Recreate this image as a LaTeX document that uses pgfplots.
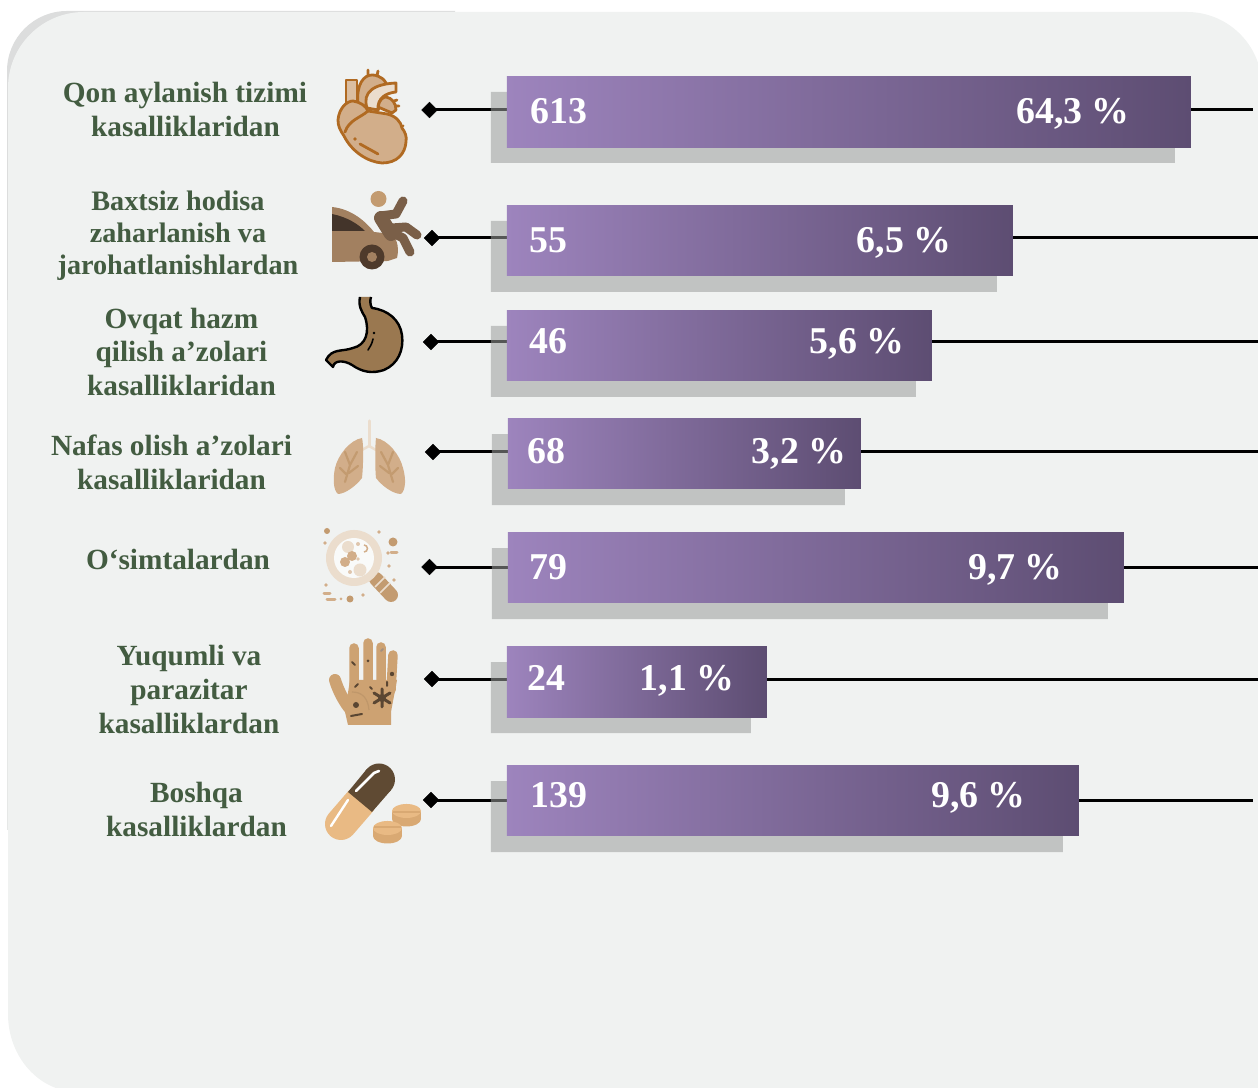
\documentclass[border=0pt]{standalone}
\usepackage{fontspec}
\setmainfont{Liberation Serif}
\usepackage{pgfplots}
\pgfplotsset{compat=1.18}
\definecolor{panel}{HTML}{F0F2F1}
\definecolor{panelsh}{HTML}{DCDDDD}
\definecolor{lab}{HTML}{435C41}
\definecolor{barA}{HTML}{9D84BD}
\definecolor{barB}{HTML}{917AAF}
\definecolor{barC}{HTML}{5D4D72}
\definecolor{shd}{HTML}{9B9D9C}
\definecolor{hOut}{HTML}{B06A22}
\definecolor{hFill}{HTML}{D2AE8A}
\definecolor{hLite}{HTML}{EBDDCD}
\definecolor{carB}{HTML}{A28060}
\definecolor{carD}{HTML}{43342A}
\definecolor{carP}{HTML}{7A5F48}
\definecolor{carH}{HTML}{C39B70}
\definecolor{wheel}{HTML}{4E3A2B}
\definecolor{stom}{HTML}{9A7850}
\definecolor{tan}{HTML}{CDA272}
\definecolor{spot}{HTML}{5A4632}
\definecolor{pillD}{HTML}{5F4A33}
\definecolor{pillL}{HTML}{E9BA84}
\definecolor{pillS}{HTML}{D9A973}
\newcommand{\lbl}[3]{\node[anchor=base,text=lab,font=\fontsize{29.4}{29.4}\selectfont\bfseries,inner sep=0pt] at (#1,#2) {#3};}
\newcommand{\lblb}[3]{\node[anchor=base,text=lab,font=\fontsize{28.3}{28.3}\selectfont\bfseries,inner sep=0pt] at (#1,#2) {#3};}
\newcommand{\val}[3]{\node[anchor=base west,text=white,font=\fontsize{38}{38}\selectfont\bfseries,inner sep=0pt] at (#1,#2) {#3};}
\begin{document}
\begin{tikzpicture}
\useasboundingbox (0,0) rectangle (1258bp,1088bp);
\clip (0,0) rectangle (1258bp,1088bp);
% panel
\begin{scope}[shift={(0bp,1088bp)},x=1bp,y=-1bp]
\fill[panelsh] (7,300) -- (7,71) arc[start angle=180,end angle=90,x radius=60,y radius=-60] -- (455,11) -- (455,100) -- (100,300) -- cycle;
\fill[panelsh!50!panel] (7,830) rectangle (20,300);
\fill[panel] (8,1014) -- (8,88) arc[start angle=180,end angle=90,x radius=76,y radius=-76] -- (1187,12) arc[start angle=90,end angle=0,x radius=75,y radius=-75] -- (1262,1092) -- (78,1092) arc[start angle=270,end angle=180,x radius=70,y radius=-78] -- cycle;
\end{scope}
% leader lines and diamonds, in pixel coordinates
\begin{axis}[at={(0,0)},anchor=south west,scale only axis,width=1258bp,height=1088bp,
  hide axis,xmin=0,xmax=1258,ymin=0,ymax=1088,y dir=reverse]
\addplot[black,line width=3bp,mark=none] coordinates {(429,110)(507,110)};
\addplot[black,line width=3bp,mark=none] coordinates {(1191,110)(1253,110)};
\addplot[black,line width=3bp,mark=none] coordinates {(432,238)(507,238)};
\addplot[black,line width=3bp,mark=none] coordinates {(1013,238)(1258,238)};
\addplot[black,line width=3bp,mark=none] coordinates {(431,342)(507,342)};
\addplot[black,line width=3bp,mark=none] coordinates {(932,342)(1258,342)};
\addplot[black,line width=3bp,mark=none] coordinates {(433,452)(508,452)};
\addplot[black,line width=3bp,mark=none] coordinates {(861,452)(1258,452)};
\addplot[black,line width=3bp,mark=none] coordinates {(429,567)(508,567)};
\addplot[black,line width=3bp,mark=none] coordinates {(1124,567)(1258,567)};
\addplot[black,line width=3bp,mark=none] coordinates {(432,679)(507,679)};
\addplot[black,line width=3bp,mark=none] coordinates {(767,679)(1258,679)};
\addplot[black,line width=3bp,mark=none] coordinates {(431,800)(507,800)};
\addplot[black,line width=3bp,mark=none] coordinates {(1079,800)(1253,800)};
\addplot[only marks,mark=square*,mark size=5.6bp,mark options={rotate=45,fill=black,draw=black}] coordinates {
 (429.5,110)(432,238)(431,342)(433,452)(429.5,567)(432,679)(431,800)};
\end{axis}
% grey shadows of the bars (bar base at x=491)
\begin{axis}[at={(0,0)},anchor=south west,scale only axis,width=1258bp,height=1088bp,
  hide axis,xmin=-491,xmax=767,ymin=0,ymax=1088,y dir=reverse,xbar,bar shift=0pt,bar width=71bp]
\addplot[draw=none,fill=shd,fill opacity=.55] coordinates {(684,127.5)(506,256.5)(425,361.5)};
\addplot[draw=none,fill=shd,fill opacity=.55,xshift=1bp] coordinates {(353,469.5)(616,583.5)};
\addplot[draw=none,fill=shd,fill opacity=.55] coordinates {(260,697.5)(572,816.5)};
\end{axis}
% bars (bar base at x=507)
\begin{axis}[at={(0,0)},anchor=south west,scale only axis,width=1258bp,height=1088bp,
  hide axis,xmin=-507,xmax=751,ymin=0,ymax=1088,y dir=reverse,xbar,bar shift=0pt,bar width=70.6bp]
\addplot[draw=none,left color=barA,middle color=barB,right color=barC,bar width=71.4bp] coordinates {(684,112.2)};
\addplot[draw=none,left color=barA,middle color=barB,right color=barC] coordinates {(506,240.6)};
\addplot[draw=none,left color=barA,middle color=barB,right color=barC] coordinates {(425,345.6)};
\addplot[draw=none,left color=barA,middle color=barB,right color=barC,xshift=1bp] coordinates {(353,453.6)};
\addplot[draw=none,left color=barA,middle color=barB,right color=barC,xshift=1bp] coordinates {(616,567.6)};
\addplot[draw=none,left color=barA,middle color=barB,right color=barC,bar width=71.4bp] coordinates {(260,681.8)};
\addplot[draw=none,left color=barA,middle color=barB,right color=barC] coordinates {(572,800.6)};
\end{axis}
\begin{scope}[shift={(0bp,1088bp)},x=1bp,y=-1bp]
% labels
\lbl{185}{103}{Qon aylanish tizimi}
\lbl{185.5}{137}{kasalliklaridan}
\lblb{178}{211}{Baxtsiz hodisa}
\lblb{178}{243}{zaharlanish va}
\lblb{178}{275}{jarohatlanishlardan}
\lbl{181.5}{329}{Ovqat hazm}
\lbl{181.5}{362}{qilish a’zolari}
\lbl{181.5}{396}{kasalliklaridan}
\lbl{171.5}{456}{Nafas olish a’zolari}
\lbl{171.5}{490}{kasalliklaridan}
\lbl{178}{570}{O‘simtalardan}
\lbl{189}{666}{Yuqumli va}
\lbl{189}{700}{parazitar}
\lbl{189}{734}{kasalliklardan}
\lbl{196.5}{803}{Boshqa}
\lbl{196.5}{837}{kasalliklardan}
% values
\val{530.5}{124}{613}\val{1016}{124}{64,3 \%}
\val{529.5}{253}{55}\val{856.5}{253}{6,5 \%}
\val{529.5}{354}{46}\val{809.5}{354}{5,6 \%}
\val{527.5}{464}{68}\val{751.5}{464}{3,2 \%}
\val{529.5}{580}{79}\val{968}{580}{9,7 \%}
\val{527.5}{691}{24}\val{639.5}{691}{1,1 \%}
\val{530}{808}{139}\val{931}{808}{9,6 \%}
% heart
\begin{scope}[draw=hOut,line width=2.8bp,line join=round,line cap=round]
\filldraw[fill=hFill!80!white] (346,104) -- (346,80) -- (357,80) -- (357,104) -- cycle;
\filldraw[fill=hFill] (358,104) .. controls (356,84) and (364,75) .. (372,75) .. controls (380,75) and (386,80) .. (388,88) -- (378,110) -- cycle;
\draw (368,75) -- (368,70) (377,76) -- (378,71);
\filldraw[fill=hFill] (378,107) .. controls (379,100) and (383,97) .. (386,97) .. controls (392,98) and (396,103) .. (396,110) -- (392,113) -- cycle;
\draw (394,101) -- (397,100) (396,106) -- (399,106);
\filldraw[fill=hLite] (367,108) .. controls (362,92) and (374,84) .. (396,83) -- (396,92) .. controls (386,93) and (377,98) .. (378,110) -- cycle;
\filldraw[fill=hFill] (338,120) .. controls (339,108) and (347,101) .. (353,101) .. controls (360,102) and (366,106) .. (368,111) -- (387,114) .. controls (396,116) and (401,122) .. (402,128) .. controls (405,132) and (407,136) .. (406,142) .. controls (405,154) and (397,163) .. (382,163) .. controls (368,162) and (352,152) .. (344,136) .. controls (340,130) and (338,126) .. (338,120) -- cycle;
\draw (368,111) .. controls (360,118) and (349,120) .. (345,132);
\draw (360,144) -- (378,154);
\end{scope}
\fill[hOut] (355,139) circle (1.8) (403,126) circle (1.5);
% car
\fill[carB] (332,207) .. controls (352,209) and (366,222) .. (374,232) -- (392,234) .. controls (398,240) and (399,250) .. (397,258) -- (388,261) -- (332,262) -- cycle;
\fill[carD] (332,214) .. controls (347,217) and (358,224) .. (365,231) -- (332,231) -- cycle;
\fill[wheel] (372,257) circle (12.5);
\fill[carB] (372,257) circle (5);
\fill[carH] (378.5,199) circle (8);
\draw[carP,line width=9bp,line cap=round,line join=round] (380,216) -- (396,214) -- (403,201);
\draw[carP,line width=14bp,line cap=round,line join=round] (381,218) -- (391,234);
\draw[carP,line width=9bp,line cap=round,line join=round] (392,228) -- (406,227) -- (417,235);
\draw[carP,line width=9bp,line cap=round,line join=round] (395,234) -- (403,238) -- (410,252);
% stomach
\filldraw[fill=stom,draw=black,line width=2.4bp,line join=round] (360,297) .. controls (358,306) and (362,312) .. (365,317) .. controls (370,332) and (366,345) .. (353,348) .. controls (342,352) and (332,348) .. (326,360) -- (333,367) .. controls (334,360) and (344,360) .. (352,365) .. controls (362,372) and (372,374) .. (384,370) .. controls (398,364) and (404,350) .. (402,335) .. controls (400,320) and (388,310) .. (372,308) .. controls (370,305) and (370,300) .. (371,297);
\draw[black,line width=1.6bp,line cap=round] (373,339) .. controls (372,344) and (370,347) .. (368,350);
\fill[black] (374,333) circle (1.3);
% lungs
\draw[hLite,line width=3bp,line cap=round] (369,421) -- (369,446);
\draw[hLite,line width=2.5bp,line cap=round] (362,450) -- (369,446) -- (376,450);
\fill[hFill] (362,438) .. controls (364,445) and (363,470) .. (362,478) .. controls (356,486) and (345,494) .. (338,494) .. controls (333,490) and (333,478) .. (335,468) .. controls (338,455) and (350,440) .. (362,438) -- cycle;
\fill[hFill] (376,438) .. controls (375,445) and (375,470) .. (376,478) .. controls (382,486) and (393,494) .. (401,494) .. controls (406,490) and (406,478) .. (403,468) .. controls (400,455) and (388,440) .. (376,438) -- cycle;
\draw[carH,line width=2.2bp,line cap=round] (345,482) -- (350,465) -- (357,452) (350,465) -- (345,452) (349,473) -- (358,466) (346,474) -- (340,468);
\draw[carH,line width=2.2bp,line cap=round] (393,482) -- (388,465) -- (381,452) (388,465) -- (393,452) (389,473) -- (380,466) (392,474) -- (398,468);
% magnifier
\draw[carH,line width=14bp,line cap=round] (376,579) -- (391,595);
\draw[hLite,line width=1.5bp] (375,587) -- (385,577) (380,593) -- (390,583);
\fill[hLite] (354,558) circle (28);
\fill[panel!40!white] (354,558) circle (20);
\fill[hLite] (348,547) circle (6);
\fill[hFill] (345,562) circle (5) (352,556) circle (5);
\fill[hLite] (360,570) circle (6.5);
\fill[hFill!70!white] (358,544) circle (2) (350,572) circle (2) (358,559) circle (1.8);
\draw[hFill,line width=1.5bp] (364,552) arc[start angle=90,end angle=-90,radius=3.5];
\fill[carH] (327,531) circle (3) (393,542) circle (4.5) (350,599) circle (3.5);
\fill[hFill] (325,543) circle (1.8) (379,532) circle (1.8) (388,553) circle (1.8) (389,566) circle (1.8) (394,580) circle (1.8) (363,595) circle (1.8) (341,599) circle (1.5) (326,585) circle (1.8);
\draw[hFill,line width=3bp,line cap=round] (391,553) -- (397,553) (324,594) -- (330,594) (327,600) -- (335,600);
% hand
\fill[tan] (348,725) -- (391,725) -- (391,712) -- (397,680) -- (350,680) -- (345,712) -- cycle;
\draw[tan,line width=9.5bp,line cap=round] (354,648) -- (354,690) (368,643) -- (368,690) (381,647) -- (381,690) (393,655) -- (391,690);
\draw[tan,line width=12bp,line cap=round] (335,680) .. controls (338,690) and (344,702) .. (351,710);
\draw[tan!93!black,line width=1.2bp] (352,692) .. controls (362,692) and (368,698) .. (369,710);
\fill[spot] (356,705) circle (3) (392,674) circle (2.2) (368,661) circle (1.5);
\draw[spot,line width=2bp,line cap=round] (352,662) -- (355,665) (355,687) -- (358,684) (370,687) -- (372,689) (351,716) -- (362,714) (387,682) -- (387,686);
\draw[spot,line width=3bp,line cap=round] (382,689) -- (382,707) (374,693) -- (390,703) (374,703) -- (390,693);
\fill[spot] (382,698) circle (4);
\draw[carP!70!white,line width=2bp,line cap=round] (381,651) -- (383,649);
% pill
\draw[pillL,line width=32bp,line cap=round] (341,824) -- (360,802);
\fill[pillD] (372,812) -- (348,792) -- (366.8,769.1) -- (391.2,789.9) -- cycle;
\fill[pillD] (379,779.5) circle (16);
\draw[white,line width=2.6bp,line cap=round] (356,791) -- (374,773) -- (379,771);
\draw[white,line width=2.4bp,line cap=round] (331,826) -- (348,800);
\fill[pillS] (406.5,819) ellipse (14.5 and 7.5);
\fill[pillS] (392,811) rectangle (421,819);
\fill[pillL] (406.5,811) ellipse (14.5 and 7);
\draw[pillS,line width=1.2bp] (393,812) -- (420,812);
\fill[pillS] (387.5,836) ellipse (14.5 and 7.5);
\fill[pillS] (373,828) rectangle (402,836);
\fill[pillL] (387.5,828) ellipse (14.5 and 7);
\draw[pillS,line width=1.2bp] (374,827) -- (401,827);
\end{scope}
\end{tikzpicture}
\end{document}
